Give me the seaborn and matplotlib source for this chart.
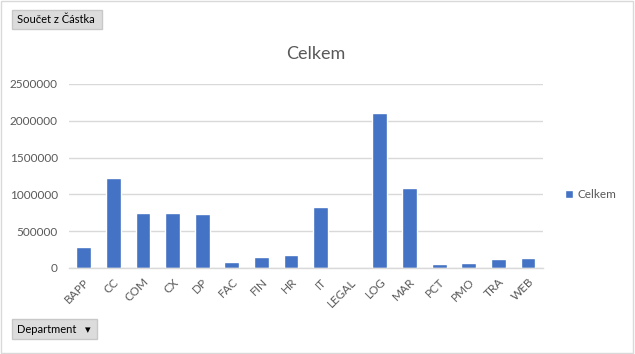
import numpy as np
import pandas as pd
import matplotlib
matplotlib.use("Agg")
import matplotlib.pyplot as plt
import seaborn as sns
from matplotlib.patches import Rectangle

departments = ['BAPP', 'CC', 'COM', 'CX', 'DP', 'FAC', 'FIN', 'HR', 'IT', 'LEGAL',
               'LOG', 'MAR', 'PCT', 'PMO', 'TRA', 'WEB']
amounts = [285000, 1222000, 751000, 747000, 734000, 86000, 153000, 180000, 833000, 0,
           2110000, 1090000, 58000, 72000, 117000, 140000]
y_ticks = [0, 500000, 1000000, 1500000, 2000000, 2500000]

df = pd.DataFrame({'Department': departments, 'Celkem': amounts})

sns.set_style("white")
plt.rcParams['font.family'] = ['Lato', 'DejaVu Sans']

txt = '#595959'
grid = '#d9d9d9'
bar_color = '#4472C4'

fig = plt.figure(figsize=(6.35, 3.54), dpi=100)
ax = fig.add_axes([0.1087, 0.243, 0.746, 0.52])

sns.barplot(data=df, x='Department', y='Celkem', color=bar_color, width=0.5,
            saturation=1, label='Celkem', ax=ax)

ax.set_ylim(0, 2500000)
ax.set_xlim(-0.5, len(departments) - 0.5)
ax.set_yticks(y_ticks)
ax.set_yticklabels([str(v) for v in y_ticks])
ax.set_xlabel('')
ax.set_ylabel('')
ax.yaxis.grid(True, color=grid, linewidth=1)
ax.set_axisbelow(True)
for s in ['top', 'right', 'left']:
    ax.spines[s].set_visible(False)
ax.spines['bottom'].set_color(grid)
ax.spines['bottom'].set_linewidth(1)

ax.tick_params(axis='y', length=0, labelsize=8.5, labelcolor=txt, pad=8)
ax.tick_params(axis='x', which='major', length=0, labelsize=8.5, labelcolor=txt, pad=6)
ax.set_xticks(np.arange(-0.5, len(departments), 1), minor=True)
ax.tick_params(axis='x', which='minor', length=4, color=grid, width=1)
for lbl in ax.get_xticklabels():
    lbl.set_rotation(45)
    lbl.set_ha('right')
    lbl.set_rotation_mode('anchor')

leg = ax.legend(loc='center left', bbox_to_anchor=(1.025, 0.397), frameon=False,
                fontsize=8.5, handlelength=0.7, handleheight=0.7, handletextpad=0.3)
for t in leg.get_texts():
    t.set_color(txt)

fig.text(0.497, 0.847, 'Celkem', ha='center', va='center', fontsize=13, color=txt)

# pivot buttons
fig.text(0.026, 0.945, 'Součet z Částka ', ha='left', va='center', fontsize=8, color='black',
         bbox=dict(boxstyle='square,pad=0.4', facecolor='#dcdcdc', edgecolor='#c8c8c8'))
fig.text(0.026, 0.07, 'Department   \u25be ', ha='left', va='center', fontsize=8, color='black',
         family=['Lato', 'DejaVu Sans'],
         bbox=dict(boxstyle='square,pad=0.4', facecolor='#dcdcdc', edgecolor='#c8c8c8'))

fig.patches.append(Rectangle((0.002, 0.003), 0.995, 0.993, transform=fig.transFigure,
                             fill=False, edgecolor='#d9d9d9', linewidth=1))

fig.savefig('out.png', dpi=100)
